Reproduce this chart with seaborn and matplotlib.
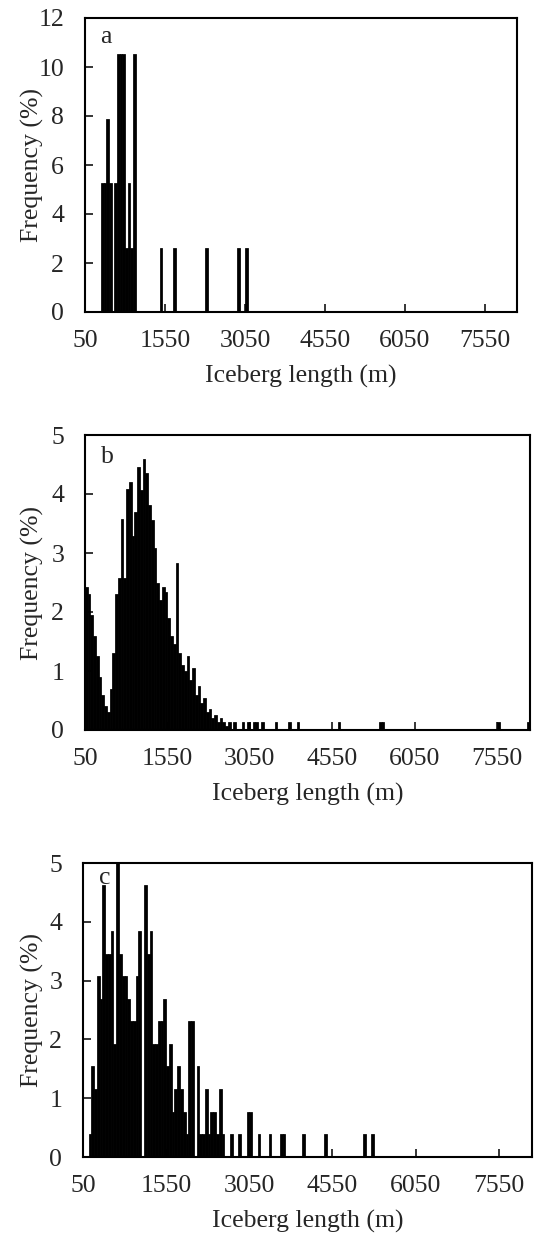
import numpy as np
import pandas as pd
import matplotlib
matplotlib.use("Agg")
import matplotlib.pyplot as plt
import seaborn as sns

# ---------------- data (bin start in m, frequency in %) ----------------
bin_width = 50
x_ticks = [50, 1550, 3050, 4550, 6050, 7550]

a_length = [350, 400, 450, 500, 550, 600, 650, 700, 750, 800, 850, 900, 950,
            1450, 1700, 2300, 2900, 3050]
a_freq = [5.26, 5.26, 7.89, 5.26, 0.0, 5.26, 10.53, 10.53, 10.53, 2.63, 5.26, 2.63, 10.53,
          2.63, 2.63, 2.63, 2.63, 2.63]

b_length = [50, 100, 150, 200, 250, 300, 350, 400, 450, 500, 550, 600, 650, 700, 750,
            800, 850, 900, 950, 1000, 1050, 1100, 1150, 1200, 1250, 1300, 1350, 1400,
            1450, 1500, 1550, 1600, 1650, 1700, 1750, 1800, 1850, 1900, 1950, 2000,
            2050, 2100, 2150, 2200, 2250, 2300, 2350, 2400, 2450, 2500, 2550, 2600,
            2650, 2750, 2900, 3000, 3100, 3150, 3250, 3500, 3750, 3900, 4650, 5400,
            5450, 7550, 8100]
b_freq = [2.43, 2.3, 1.95, 1.6, 1.25, 0.9, 0.6, 0.4, 0.3, 0.7, 1.3, 2.3, 2.57, 3.57, 2.57,
          4.08, 4.2, 3.28, 3.7, 4.46, 4.07, 4.59, 4.35, 3.81, 3.56, 3.08, 2.5, 2.2,
          2.43, 2.34, 1.9, 1.6, 1.45, 2.83, 1.3, 1.1, 1.0, 1.25, 0.85, 1.05,
          0.6, 0.75, 0.45, 0.55, 0.3, 0.35, 0.2, 0.25, 0.13, 0.2, 0.13, 0.07,
          0.13, 0.13, 0.13, 0.13, 0.13, 0.13, 0.13, 0.13, 0.13, 0.13, 0.13, 0.13,
          0.13, 0.13, 0.13]

c_length = [150, 200, 250, 300, 350, 400, 450, 500, 550, 600, 650, 700, 750, 800,
            850, 900, 950, 1000, 1050, 1100, 1150, 1200, 1250, 1300, 1350, 1400, 1450,
            1500, 1550, 1600, 1650, 1700, 1750, 1800, 1850, 1900, 1950, 2000, 2050,
            2100, 2150, 2200, 2250, 2300, 2350, 2400, 2450, 2500, 2550, 2700, 2850,
            3000, 3050, 3200, 3400, 3600, 3650, 4000, 4400, 5100, 5250]
c_freq = [0.385, 1.54, 1.15, 3.08, 2.69, 4.62, 3.46, 3.46, 3.85, 1.92, 5.0, 3.46, 3.08, 3.08,
          2.69, 2.31, 2.31, 3.08, 3.85, 0.0, 4.62, 3.46, 3.85, 1.92, 1.92, 2.31, 2.31,
          2.69, 1.54, 1.92, 0.77, 1.15, 1.54, 1.15, 0.77, 0.385, 2.31, 2.31, 0.0,
          1.54, 0.385, 0.385, 1.15, 0.385, 0.77, 0.77, 0.385, 1.15, 0.385, 0.385, 0.385,
          0.77, 0.77, 0.385, 0.385, 0.385, 0.385, 0.385, 0.385, 0.385, 0.385]

panels = [
    ("a", a_length, a_freq, 12, list(range(0, 13, 2))),
    ("b", b_length, b_freq, 5, list(range(0, 6))),
    ("c", c_length, c_freq, 5, list(range(0, 6))),
]

# ---------------- style ----------------
sns.set_style("ticks")
plt.rcParams["font.family"] = ["Liberation Serif", "DejaVu Serif"]
plt.rcParams["font.size"] = 18.5

W, H = 536, 1238
fig = plt.figure(figsize=(W / 100, H / 100), dpi=100)

# axes boxes in pixels: left, right, top, bottom
boxes = [(85, 517, 18, 312), (85, 530, 435, 730), (83, 532, 863, 1157)]
letter_base = [0.915, 0.905, 0.93]

for (letter, lengths, freqs, ymax, yticks), (l, r, t, b), lb in zip(panels, boxes, letter_base):
    ax = fig.add_axes([l / W, 1 - b / H, (r - l) / W, (b - t) / H])
    df = pd.DataFrame({"length": np.array(lengths, dtype=float) + bin_width / 2,
                       "freq": np.array(freqs, dtype=float)})
    sns.histplot(data=df, x="length", weights="freq", binwidth=bin_width,
                 binrange=(50, 8150), ax=ax,
                 color="black", edgecolor="black", linewidth=0.55, alpha=1.0)
    ax.set_xlim(50, 8150)
    ax.set_ylim(0, ymax)
    ax.set_xticks(x_ticks)
    ax.set_yticks(yticks)
    ax.tick_params(direction="in", length=6, width=1.1, labelsize=18.5, color="black")
    ax.tick_params(axis="y", pad=15)
    ax.tick_params(axis="x", pad=13)
    for s in ax.spines.values():
        s.set_visible(True)
        s.set_linewidth(1.5)
        s.set_color("black")
    ax.set_ylabel("Frequency (%)", fontsize=18.5)
    ax.set_xlabel("Iceberg length (m)", fontsize=18.5)
    ax.yaxis.set_label_coords(-(l - 44) / (r - l), 0.5)
    ax.xaxis.set_label_coords(0.5, -53 / (b - t))
    ax.text(0.035, lb, letter, transform=ax.transAxes, fontsize=18.5,
            ha="left", va="baseline")

fig.savefig("out.png", dpi=100)
